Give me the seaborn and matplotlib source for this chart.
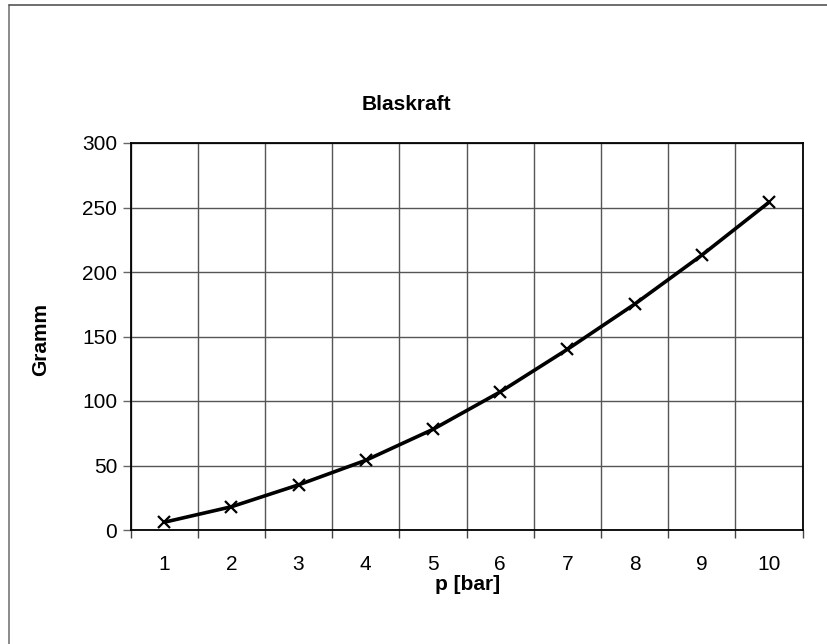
import numpy as np
import pandas as pd
import matplotlib
matplotlib.use("Agg")
import matplotlib.pyplot as plt
import seaborn as sns
from matplotlib.lines import Line2D

# Daten
druck_bar = [1, 2, 3, 4, 5, 6, 7, 8, 9, 10]
gramm = [6, 18, 35, 54, 78, 107, 140, 175, 213, 254]
y_ticks = [0, 50, 100, 150, 200, 250, 300]

sns.set_theme(style="white")
plt.rcParams['font.family'] = ['Liberation Sans', 'DejaVu Sans']
plt.rcParams['text.color'] = 'black'
plt.rcParams['xtick.color'] = 'black'
plt.rcParams['ytick.color'] = 'black'

df = pd.DataFrame({'p': druck_bar, 'g': gramm})

fig = plt.figure(figsize=(8.27, 6.44), dpi=100)
ax = fig.add_axes([130.5 / 827, 1 - 530 / 644, 672 / 827, 387 / 644])

sns.lineplot(data=df, x='p', y='g', ax=ax, color='black', linewidth=2.6,
             marker='x', markersize=8, markeredgewidth=1.6,
             markeredgecolor='black')

# Kategorieachse: Striche an den Grenzen, Beschriftung in der Mitte
ax.set_xlim(0.5, 10.5)
ax.set_xticks(np.arange(0.5, 11, 1.0))
ax.set_xticklabels([])
ax.set_xticks(druck_bar, minor=True)
ax.set_xticklabels([str(v) for v in druck_bar], minor=True, fontsize=15)
ax.tick_params(axis='x', which='major', direction='out', length=6,
               width=1, color='#444444', bottom=True)
ax.tick_params(axis='x', which='minor', length=0, pad=18)

ax.set_ylim(0, 300)
ax.set_yticks(y_ticks)
ax.set_yticklabels([str(v) for v in y_ticks], fontsize=15)
ax.tick_params(axis='y', direction='out', length=6, width=1,
               color='#666666', left=True, pad=3.5)

ax.grid(True, which='major', color='#555555', linewidth=1.0)
ax.set_axisbelow(True)
for s in ax.spines.values():
    s.set_color('black')
    s.set_linewidth(1.3)

ax.set_xlabel('')
ax.set_ylabel('')

fig.text(406 / 827, 1 - 104 / 644, 'Blaskraft', ha='center', va='center',
         fontsize=15, fontweight='bold')
fig.text(41 / 827, 1 - 340 / 644, 'Gramm', ha='center', va='center',
         rotation=90, fontsize=15, fontweight='bold')
fig.text(468 / 827, 1 - 585 / 644, 'p [bar]', ha='center', va='center',
         fontsize=15, fontweight='bold')

# Rahmen des Diagrammbereichs (links und oben sichtbar)
fig.add_artist(Line2D([9 / 827, 9 / 827], [0, 1 - 5 / 644],
                      transform=fig.transFigure, color='#777777', linewidth=1.2))
fig.add_artist(Line2D([9 / 827, 1], [1 - 5 / 644, 1 - 5 / 644],
                      transform=fig.transFigure, color='#555555', linewidth=1.2))

fig.savefig('out.png', dpi=100)
